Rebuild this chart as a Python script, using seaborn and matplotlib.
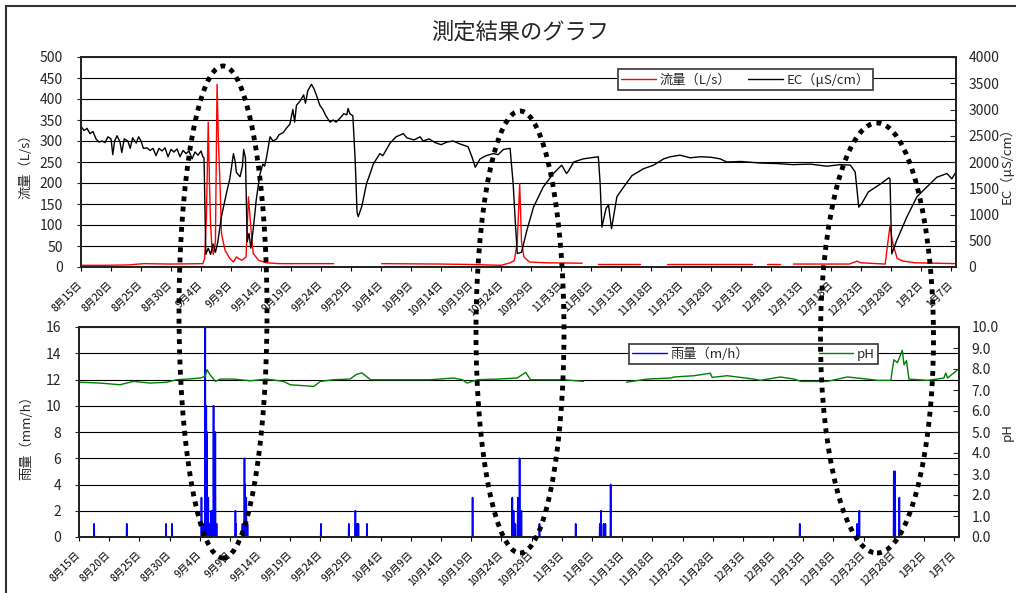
import numpy as np
import pandas as pd
import matplotlib
matplotlib.use("Agg")
import matplotlib.pyplot as plt
import seaborn as sns
from matplotlib.patches import Ellipse, Rectangle
from matplotlib.lines import Line2D
from matplotlib.transforms import ScaledTranslation

sns.set_theme(style="ticks")
plt.rcParams["font.family"] = ["Noto Sans CJK JP", "DejaVu Sans"]
plt.rcParams["axes.unicode_minus"] = False

W, H = 1016, 593

# --- data (day 0 = 8/15) ---
start_date = "2009-08-15"

# EC (uS/cm)
ec_day = [0, 0.5, 1.0, 1.5, 2.0, 2.5, 3.0, 3.5, 4.0, 4.5, 5.0, 5.3, 5.6, 6.0, 6.5, 6.8,
          7.2, 7.8, 8.2, 8.6, 9.2, 9.6, 10.0, 10.4, 11.0, 11.5, 12.0, 12.5, 13.0, 13.5,
          14.0, 14.5, 15.0, 15.5, 16.0, 16.5, 17.0, 17.5, 18.0, 18.5, 19.0, 19.5, 20.0,
          20.3, 20.5, 20.8, 21.2, 21.6, 22.0, 22.4, 22.8, 23.4, 24.3, 24.8, 25.4, 25.7,
          25.9, 26.5, 26.9, 27.1, 27.4, 27.7, 28.0, 28.3, 28.7, 29.2, 29.8, 30.3, 30.6,
          30.9, 31.5, 32.0, 32.6, 33.0, 33.7, 34.2, 34.8, 35.3, 35.6, 35.9, 36.5, 37.1,
          37.4, 37.8, 38.4, 38.8, 39.2, 39.8, 40.3, 40.8, 41.5, 42.0, 42.5, 43.2, 43.8,
          44.3, 44.5, 44.8, 45.3, 45.7, 46.0, 46.2, 46.8, 47.6, 48.0, 48.7, 49.8, 50.3,
          51.5, 52.5, 53.7, 54.3, 55.5, 56.5, 57.0, 58.0, 59.0, 60.0, 61.0, 62.0, 63.0,
          64.5, 65.2, 65.7, 66.5, 67.5, 68.7, 69.5, 70.4, 71.5, 72.0, 72.4, 72.7, 73.4,
          74.3, 75.4, 77.0, 78.7, 80.1, 80.9, 81.3, 82.1, 83.7, 86.2, 86.5, 86.8, 87.5,
          87.9, 88.4, 89.3, 90.4, 91.8, 93.7, 95.4, 97.1, 98.2, 99.8, 101.5, 103.2,
          105.0, 106.5, 107.6, 110.0, 113.2, 116.0, 118.7, 121.5, 124.3, 126.5, 128.2,
          129.0, 129.6, 130.1, 131.2, 133.2, 134.6, 134.8, 135.1, 135.9, 137.6, 139.3,
          140.9, 142.6, 144.3, 145.1, 145.8]
ec_val = [2680, 2600, 2640, 2540, 2580, 2440, 2380, 2400, 2370, 2480, 2440, 2140, 2400,
          2500, 2380, 2180, 2440, 2400, 2260, 2460, 2360, 2480, 2400, 2260, 2270, 2220,
          2260, 2120, 2260, 2210, 2270, 2100, 2240, 2190, 2250, 2100, 2220, 2160, 2210,
          2060, 2190, 2130, 2210, 2100, 2080, 240, 360, 240, 440, 280, 480, 960, 1440,
          1680, 2160, 2000, 1800, 1720, 1920, 2240, 2080, 480, 640, 360, 720, 1280, 1760,
          1960, 1920, 2080, 2480, 2400, 2440, 2520, 2560, 2640, 2720, 3000, 2760, 3080,
          3160, 3280, 3120, 3360, 3480, 3400, 3280, 3080, 3000, 2880, 2760, 2800, 2760,
          2840, 2920, 2900, 3020, 2920, 2880, 2000, 1040, 960, 1160, 1600, 1720, 1960,
          2160, 2120, 2360, 2480, 2540, 2460, 2420, 2480, 2400, 2440, 2370, 2330, 2380,
          2400, 2350, 2290, 2080, 1900, 2060, 2120, 2160, 2140, 2240, 2260, 1600, 800,
          256, 280, 700, 1140, 1520, 1780, 1940, 1780, 1840, 2000, 2060, 2100, 1600, 760,
          1120, 1180, 730, 1340, 1520, 1740, 1870, 1940, 2060, 2100, 2130, 2080, 2100,
          2090, 2060, 2000, 2010, 1980, 1970, 1950, 1960, 1920, 1950, 1940, 1810, 1140,
          1210, 1430, 1580, 1700, 1680, 250, 500, 950, 1340, 1520, 1710, 1780, 1680, 1810]

# flow (L/s), NaN marks a gap in the record
flow_day = [0, 4, 8, 10.4, 15, 20.3, 20.6, 20.9, 21.2, 21.4, 21.6, 21.8, 22.05, 22.4,
            22.67, 22.9, 23.2, 23.4, 24.0, 24.8, 25.4, 25.9, 26.3, 26.8, 27.5, 27.9,
            28.3, 28.7, 29.6, 30.9, 33.0, 42.1, np.nan,
            50.1, 60.0, 65.0, 70.0, 71.5, 72.2, 72.7, 73.1, 73.4, 73.8, 74.7, 77.5, 83.5,
            np.nan, 86.2, 93.2, np.nan, 97.6, 111.8, np.nan, 114.3, 116.5, np.nan,
            118.7, 128.0, 129.3, 130.0, 134.0, 134.8, 135.2, 136.0, 137.0, 139.0, 145.8]
flow_val = [4, 4, 5, 8, 7, 8, 20, 120, 345, 200, 100, 50, 30, 60,
            435, 300, 183, 80, 40, 20, 12, 24, 20, 16, 24, 167,
            95, 32, 16, 10, 8, 8, np.nan,
            8, 7, 6, 4, 10, 15, 60, 198, 60, 24, 12, 10, 9,
            np.nan, 8, 8, np.nan, 7, 7, np.nan, 8, 8, np.nan,
            7, 7, 14, 10, 7, 99, 60, 20, 14, 10, 8]

# pH
ph_day = [0.2, 3.5, 6.8, 9.0, 11.8, 14.5, 16.2, 17.9, 20.1, 20.9, 21.2, 21.7, 22.6, 23.4,
          25.6, 28.4, 31.1, 33.9, 35.0, 38.9, 40.0, 42.2, 44.9, 46.0, 46.9, 48.3, 52.7,
          58.2, 62.1, 63.5, 64.3, 66.0, 69.3, 72.6, 74.0, 74.8, 80.3, 83.6, np.nan,
          90.7, 94.1, 98.0, 98.6, 101.9, 104.6, 104.9, 107.4, 111.8, 112.9, 116.2, 118.5,
          119.6, 124.0, 127.3, 130.6, 132.3, 134.5, 135.0, 135.6, 136.0, 136.4, 136.7,
          137.1, 137.5, 140.6, 143.3, 143.6, 143.9, 145.6]
ph_val = [7.37, 7.33, 7.25, 7.41, 7.33, 7.37, 7.49, 7.52, 7.57, 7.65, 7.97, 7.73, 7.41,
          7.52, 7.52, 7.44, 7.52, 7.41, 7.25, 7.17, 7.41, 7.49, 7.52, 7.75, 7.81, 7.49,
          7.49, 7.49, 7.57, 7.49, 7.33, 7.49, 7.52, 7.57, 7.84, 7.49, 7.49, 7.41, np.nan,
          7.37, 7.52, 7.57, 7.62, 7.68, 7.80, 7.60, 7.68, 7.52, 7.46, 7.62, 7.52,
          7.41, 7.41, 7.62, 7.52, 7.46, 7.46, 8.44, 8.30, 8.60, 8.89, 8.20,
          8.40, 7.52, 7.46, 7.57, 7.81, 7.57, 7.97]

# rainfall events (mm/h), zero at every other hour
rain_day = [2.5, 7.9, 14.4, 15.4, 20.3, 20.6, 20.9, 21.1, 21.2, 21.4, 21.6, 21.9, 22.1,
            22.3, 22.6, 22.8, 25.9, 26.0, 27.1, 27.4, 27.5, 27.7, 27.9, 40.1, 44.7, 45.8,
            46.1, 46.3, 47.7, 65.2, 71.8, 72.0, 72.3, 72.7, 73.0, 73.3, 76.3, 82.3, 86.3,
            86.5, 86.9, 87.2, 88.1, 119.4, 128.9, 129.3, 135.0, 135.2, 135.9]
rain_val = [1, 1, 1, 1, 3, 1, 16, 10, 8, 3, 1, 2, 2,
            10, 8, 1, 2, 1, 1, 6, 4, 3, 1, 1, 1, 2,
            1, 1, 1, 3, 3, 2, 1, 3, 6, 2, 1, 1, 1,
            2, 1, 1, 4, 1, 1, 2, 5, 5, 3]

n_days = 146
tick_days = np.arange(0, 146, 5)
tick_dates = pd.to_datetime(start_date) + pd.to_timedelta(tick_days, unit="D")
tick_labels = [f"{d.month}月{d.day}日" for d in tick_dates]


def seg_frame(days, vals):
    df = pd.DataFrame({"day": days, "val": vals})
    df["seg"] = df["day"].isna().cumsum()
    return df.dropna()


ec_df = pd.DataFrame({"day": ec_day, "val": ec_val})
flow_df = seg_frame(flow_day, flow_val)
ph_df = seg_frame(ph_day, ph_val)

hours = np.arange(n_days * 24)
rain = np.zeros(len(hours))
for d, v in zip(rain_day, rain_val):
    rain[int(round(d * 24))] = v
rain_df = pd.DataFrame({"day": hours / 24.0, "val": rain})

# --- figure ---
fig = plt.figure(figsize=(W / 100, H / 100), dpi=100)
ax1 = fig.add_axes([81 / W, 1 - 267 / H, 875 / W, 210 / H])
ax2 = ax1.twinx()
ax3 = fig.add_axes([79 / W, 1 - 537 / H, 880 / W, 210 / H])
ax4 = ax3.twinx()

sns.lineplot(data=flow_df, x="day", y="val", units="seg", estimator=None,
             color="#ff0000", lw=1, ax=ax1)
sns.lineplot(data=ec_df, x="day", y="val", color="black", lw=1, ax=ax2)
sns.lineplot(data=rain_df, x="day", y="val", color="#0000ff", lw=1.2, ax=ax3)
sns.lineplot(data=ph_df, x="day", y="val", units="seg", estimator=None,
             color="#008000", lw=1, ax=ax4)

ax1.set_ylim(0, 500)
ax1.set_yticks(np.arange(0, 501, 50))
ax2.set_ylim(0, 4000)
ax2.set_yticks(np.arange(0, 4001, 500))
ax3.set_ylim(0, 16)
ax3.set_yticks(np.arange(0, 17, 2))
ax4.set_ylim(0, 10)
ax4.set_yticks(np.arange(0, 11, 1))
ax4.set_yticklabels([f"{v:.1f}" for v in np.arange(0, 11, 1)])

shift = ScaledTranslation(-3 / 100, 0, fig.dpi_scale_trans)
for ax in (ax1, ax3):
    ax.set_xlim(0, 145.8)
    ax.set_xticks(tick_days)
    ax.set_xticklabels(tick_labels, rotation=45, ha="right", va="center",
                       rotation_mode="anchor", fontsize=7.5)
    for lbl in ax.get_xticklabels():
        lbl.set_transform(lbl.get_transform() + shift)
    ax.tick_params(axis="x", direction="out", length=3, width=0.8, pad=8.5, colors="black")
    ax.tick_params(axis="y", direction="out", length=3, width=0.8, pad=10, labelsize=10)
    ax.grid(axis="y", color="black", lw=0.8)
    ax.set_xlabel("")
    for s in ax.spines.values():
        s.set_color("#222222")
        s.set_linewidth(1.3)
for ax in (ax2, ax4):
    ax.tick_params(axis="y", direction="in", length=4, width=0.8, pad=9, labelsize=10)
    ax.set_xlabel("")
    for s in ax.spines.values():
        s.set_color("#222222")
        s.set_linewidth(1.3)

ax1.set_ylabel("流量（L/s）", fontsize=9.5)
ax1.yaxis.set_label_coords(-0.055, 0.495)
ax2.set_ylabel("EC（μS/cm）", fontsize=9.5)
ax2.yaxis.set_label_coords(1.049, 0.5)
ax3.set_ylabel("雨量（mm/h）", fontsize=9.5)
ax3.yaxis.set_label_coords(-0.052, 0.49)
ax4.set_ylabel("pH", fontsize=9.5)
ax4.yaxis.set_label_coords(1.048, 0.5)

# legends
leg1 = ax2.legend([Line2D([], [], color="#ff0000", lw=1), Line2D([], [], color="black", lw=1)],
                  ["流量（L/s）", "EC（μS/cm）"], loc="upper left",
                  bbox_to_anchor=(618 / W, 1 - 92 / H, 255 / W, 23 / H),
                  bbox_transform=fig.transFigure, mode="expand", ncol=2, fontsize=9.5,
                  frameon=True, fancybox=False, framealpha=1, edgecolor="#444444",
                  handlelength=2.6, borderaxespad=0, borderpad=0.25, handletextpad=0.3)
leg1.get_frame().set_linewidth(1.3)
leg2 = ax4.legend([Line2D([], [], color="#0000ff", lw=1), Line2D([], [], color="#008000", lw=1)],
                  ["雨量（m/h）", "pH"], loc="upper left",
                  bbox_to_anchor=(629 / W, 1 - 367 / H, 249 / W, 23 / H),
                  bbox_transform=fig.transFigure, mode="expand", ncol=2, fontsize=9.5,
                  frameon=True, fancybox=False, framealpha=1, edgecolor="#444444",
                  handlelength=2.6, borderaxespad=0, borderpad=0.25, handletextpad=0.3)
leg2.get_frame().set_linewidth(1.3)

fig.text(520 / W, 1 - 32 / H, "測定結果のグラフ", ha="center", va="center", fontsize=16)

# outer chart frame
fig.add_artist(Rectangle((6 / W, -0.1), 1.2, 1.1 - 6 / H, transform=fig.transFigure,
                         fill=False, edgecolor="#333333", lw=1.5))

# dotted highlight ellipses (pixel centre, width, height)
for cx, cy, ew, eh in [(223, 312, 88, 492), (520, 332, 88, 442), (877, 338, 113, 430)]:
    fig.add_artist(Ellipse((cx / W, 1 - cy / H), ew / W, eh / H, transform=fig.transFigure,
                           fill=False, edgecolor="black", lw=3.5, ls=(0, (1, 1.1)), zorder=5))

fig.savefig("out.png", dpi=100)
